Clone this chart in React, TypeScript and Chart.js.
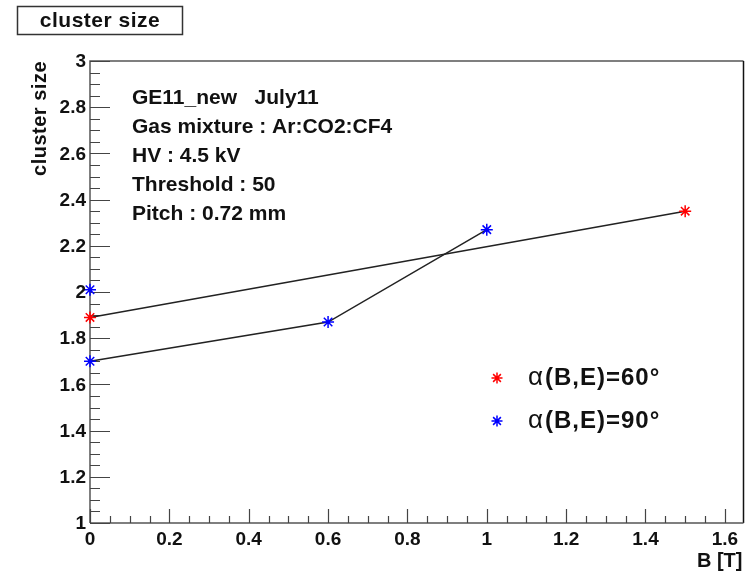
import React, { useEffect, useRef } from "react";
import { Chart, registerables } from "chart.js";

Chart.register(...registerables);

// ---- data ----
const series60X = [0, 1.5];
const series60Y = [1.89, 2.35];
const series90X = [0, 0.6, 1.0];
const series90Y = [1.7, 1.87, 2.27];
const series90ExtraX = [0];
const series90ExtraY = [2.01];

const xTickValues = [0, 0.2, 0.4, 0.6, 0.8, 1, 1.2, 1.4, 1.6];
const xTickLabels = ["0", "0.2", "0.4", "0.6", "0.8", "1", "1.2", "1.4", "1.6"];
const yTickValues = [1, 1.2, 1.4, 1.6, 1.8, 2, 2.2, 2.4, 2.6, 2.8, 3];
const yTickLabels = ["1", "1.2", "1.4", "1.6", "1.8", "2", "2.2", "2.4", "2.6", "2.8", "3"];

const legendLabels = ["α(B,E)=60°", "α(B,E)=90°"];
const infoLines = [
  "GE11_new   July11",
  "Gas mixture : Ar:CO2:CF4",
  "HV : 4.5 kV",
  "Threshold : 50",
  "Pitch : 0.72 mm",
];
const titleText = "cluster size";
const yAxisTitle = "cluster size";
const xAxisTitle = "B [T]";

const RED = "#ff0000";
const BLUE = "#0000ff";
const FONT = '"Liberation Sans", Arial, Helvetica, sans-serif';

function drawStar(ctx: CanvasRenderingContext2D, x: number, y: number, r: number, color: string) {
  ctx.save();
  ctx.strokeStyle = color;
  ctx.lineWidth = 1.5;
  ctx.beginPath();
  for (let i = 0; i < 4; i++) {
    const a = (i * Math.PI) / 4;
    ctx.moveTo(x - r * Math.cos(a), y - r * Math.sin(a));
    ctx.lineTo(x + r * Math.cos(a), y + r * Math.sin(a));
  }
  ctx.stroke();
  ctx.restore();
}

const rootPlugin = {
  id: "rootStyle",
  beforeDatasetsDraw(chart: any) {
    const ctx: CanvasRenderingContext2D = chart.ctx;
    const { left, right, top, bottom } = chart.chartArea;
    const xs = chart.scales.x;
    const ys = chart.scales.y;
    ctx.save();

    // frame
    ctx.strokeStyle = "#555";
    ctx.lineWidth = 1.5;
    ctx.beginPath();
    ctx.moveTo(left, bottom);
    ctx.lineTo(left, top);
    ctx.lineTo(right, top);
    ctx.stroke();
    ctx.strokeStyle = "#111";
    ctx.beginPath();
    ctx.moveTo(right, top);
    ctx.lineTo(right, bottom);
    ctx.stroke();
    ctx.strokeStyle = "#555";
    ctx.beginPath();
    ctx.moveTo(left, bottom);
    ctx.lineTo(right, bottom);
    ctx.stroke();

    // ticks
    ctx.strokeStyle = "#444";
    ctx.lineWidth = 1.2;
    ctx.beginPath();
    for (let k = 0; k <= 40; k++) {
      const v = 1 + k * 0.05;
      const py = Math.round(ys.getPixelForValue(v)) + 0.5;
      const len = k % 4 === 0 ? 20 : 10;
      ctx.moveTo(left, py);
      ctx.lineTo(left + len, py);
    }
    for (let k = 0; k <= 32; k++) {
      const v = k * 0.05;
      const px = Math.round(xs.getPixelForValue(v)) + 0.5;
      const len = k % 4 === 0 ? 14 : 7;
      ctx.moveTo(px, bottom);
      ctx.lineTo(px, bottom - len);
    }
    ctx.stroke();
    ctx.restore();
  },
  afterDraw(chart: any) {
    const ctx: CanvasRenderingContext2D = chart.ctx;
    const { left, right, top, bottom } = chart.chartArea;
    const xs = chart.scales.x;
    const ys = chart.scales.y;
    ctx.save();

    // tick labels
    ctx.fillStyle = "#111";
    ctx.font = `bold 19px ${FONT}`;
    ctx.textAlign = "right";
    ctx.textBaseline = "middle";
    yTickValues.forEach((v, i) => {
      ctx.fillText(yTickLabels[i], left - 4, ys.getPixelForValue(v) + 1);
    });
    ctx.textAlign = "center";
    ctx.textBaseline = "top";
    xTickValues.forEach((v, i) => {
      ctx.fillText(xTickLabels[i], xs.getPixelForValue(v), bottom + 7);
    });

    // axis titles
    ctx.font = `bold 20px ${FONT}`;
    ctx.textAlign = "right";
    ctx.textBaseline = "alphabetic";
    ctx.fillText(xAxisTitle, right - 1, bottom + 44);
    ctx.save();
    ctx.translate(46, top);
    ctx.rotate(-Math.PI / 2);
    ctx.textAlign = "right";
    ctx.textBaseline = "alphabetic";
    (ctx as any).letterSpacing = "0.5px";
    ctx.fillText(yAxisTitle, 0, 0);
    ctx.restore();

    // info text
    ctx.font = `bold 21px ${FONT}`;
    ctx.textAlign = "left";
    ctx.textBaseline = "middle";
    infoLines.forEach((t, i) => {
      ctx.fillText(t, 132, 98 + i * 29);
    });

    // legend
    const legendColors = [RED, BLUE];
    legendLabels.forEach((t, i) => {
      const cy = 378 + i * 43;
      drawStar(ctx, 497, cy, 5.5, legendColors[i]);
      ctx.font = `26px ${FONT}`;
      ctx.textBaseline = "middle";
      ctx.textAlign = "left";
      const alpha = t.charAt(0);
      ctx.fillText(alpha, 528, cy);
      ctx.font = `bold 24px ${FONT}`;
      (ctx as any).letterSpacing = "1px";
      ctx.fillText(t.slice(1), 545, cy);
      (ctx as any).letterSpacing = "0px";
    });

    // title box
    ctx.fillStyle = "#fff";
    ctx.fillRect(17, 6, 166, 29);
    ctx.strokeStyle = "#333";
    ctx.lineWidth = 1.5;
    ctx.strokeRect(17.5, 6.5, 165, 28);
    ctx.fillStyle = "#111";
    ctx.font = `bold 21px ${FONT}`;
    ctx.textAlign = "center";
    ctx.textBaseline = "middle";
    (ctx as any).letterSpacing = "0.5px";
    ctx.fillText(titleText, 100, 21);
    (ctx as any).letterSpacing = "0px";

    ctx.restore();
  },
};

export default function App() {
  const ref = useRef<HTMLCanvasElement | null>(null);
  useEffect(() => {
    if (!ref.current) return;
    const toPts = (xs: number[], ys: number[]) => xs.map((x, i) => ({ x, y: ys[i] }));
    const chart = new Chart(ref.current, {
      type: "scatter",
      data: {
        datasets: [
          {
            label: legendLabels[0],
            data: toPts(series60X, series60Y),
            showLine: true,
            clip: false,
            borderColor: "#222",
            borderWidth: 1.5,
            pointStyle: "star",
            pointRadius: 6,
            pointBorderColor: RED,
            pointBackgroundColor: RED,
            pointBorderWidth: 1.5,
          },
          {
            label: legendLabels[1],
            data: toPts(series90X, series90Y),
            showLine: true,
            clip: false,
            borderColor: "#222",
            borderWidth: 1.5,
            pointStyle: "star",
            pointRadius: 6,
            pointBorderColor: BLUE,
            pointBackgroundColor: BLUE,
            pointBorderWidth: 1.5,
          },
          {
            label: legendLabels[1] + " (extra)",
            data: toPts(series90ExtraX, series90ExtraY),
            showLine: false,
            clip: false,
            pointStyle: "star",
            pointRadius: 6,
            pointBorderColor: BLUE,
            pointBackgroundColor: BLUE,
            pointBorderWidth: 1.5,
          },
        ],
      },
      options: {
        responsive: false,
        animation: false,
        layout: { padding: { left: 90, top: 61, right: 5, bottom: 48 } },
        plugins: { legend: { display: false }, title: { display: false }, tooltip: { enabled: false } },
        scales: {
          x: { type: "linear", min: 0, max: 1.647, display: false },
          y: { type: "linear", min: 1, max: 3, display: false },
        },
      },
      plugins: [rootPlugin],
    } as any);
    return () => chart.destroy();
  }, []);
  return (
    <div style={{ position: "absolute", left: 0, top: 0, width: 751, height: 571, background: "#fff" }}>
      <canvas ref={ref} width={751} height={571} style={{ display: "block" }} />
    </div>
  );
}
